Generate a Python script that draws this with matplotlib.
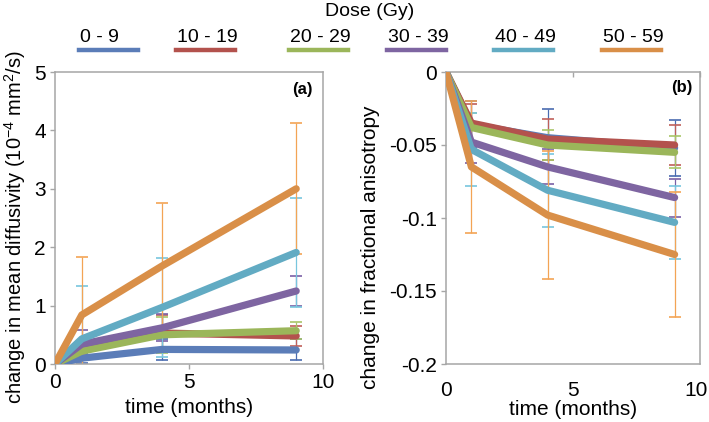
import numpy as np
import matplotlib
matplotlib.use("Agg")
import matplotlib.pyplot as plt
import matplotlib.transforms as mtransforms
from matplotlib.lines import Line2D
from matplotlib.ticker import FuncFormatter

plt.rcParams['font.family'] = ['Liberation Sans', 'DejaVu Sans']
plt.rcParams['mathtext.fontset'] = 'custom'
plt.rcParams['mathtext.rm'] = 'Liberation Sans'
plt.rcParams['mathtext.it'] = 'Liberation Sans:italic'
plt.rcParams['axes.unicode_minus'] = False

# dose groups and time points
doses = ['0 - 9', '10 - 19', '20 - 29', '30 - 39', '40 - 49', '50 - 59']
colors = ['#5b7db8', '#b3524d', '#9bb65a', '#7e65a1', '#62abc3', '#d98f48']
err_colors = ['#4a6cb0', '#c0605a', '#a9c668', '#7a60a6', '#78c6de', '#f3a455']
time = [0, 1, 4, 9]

# (a) change in mean diffusivity, 1e-4 mm2/s
md_0_9 = [0, 0.10, 0.25, 0.24]
md_10_19 = [0, 0.28, 0.53, 0.48]
md_20_29 = [0, 0.22, 0.50, 0.57]
md_30_39 = [0, 0.34, 0.62, 1.25]
md_40_49 = [0, 0.43, 0.97, 1.91]
md_50_59 = [0, 0.84, 1.68, 3.00]
md_sd_0_9 = [0, 0.08, 0.18, 0.18]
md_sd_10_19 = [0, 0.12, 0.31, 0.17]
md_sd_20_29 = [0, 0.10, 0.31, 0.15]
md_sd_30_39 = [0, 0.25, 0.23, 0.26]
md_sd_40_49 = [0, 0.90, 0.85, 0.94]
md_sd_50_59 = [0, 1.00, 1.08, 1.12]

# (b) change in fractional anisotropy
fa_0_9 = [0, -0.036, -0.045, -0.052]
fa_10_19 = [0, -0.035, -0.046, -0.050]
fa_20_29 = [0, -0.038, -0.050, -0.055]
fa_30_39 = [0, -0.048, -0.065, -0.086]
fa_40_49 = [0, -0.053, -0.081, -0.103]
fa_50_59 = [0, -0.065, -0.098, -0.125]
fa_sd_0_9 = [0, 0.016, 0.020, 0.019]
fa_sd_10_19 = [0, 0.013, 0.014, 0.014]
fa_sd_20_29 = [0, 0.010, 0.010, 0.011]
fa_sd_30_39 = [0, 0.014, 0.012, 0.013]
fa_sd_40_49 = [0, 0.025, 0.025, 0.025]
fa_sd_50_59 = [0, 0.045, 0.044, 0.043]

md = [md_0_9, md_10_19, md_20_29, md_30_39, md_40_49, md_50_59]
md_sd = [md_sd_0_9, md_sd_10_19, md_sd_20_29, md_sd_30_39, md_sd_40_49, md_sd_50_59]
fa = [fa_0_9, fa_10_19, fa_20_29, fa_30_39, fa_40_49, fa_50_59]
fa_sd = [fa_sd_0_9, fa_sd_10_19, fa_sd_20_29, fa_sd_30_39, fa_sd_40_49, fa_sd_50_59]

W, H = 709, 422
fig = plt.figure(figsize=(W / 100, H / 100), dpi=100)
ax_a = fig.add_axes([55 / W, 58 / H, 268 / W, 292 / H])
ax_b = fig.add_axes([446 / W, 58 / H, 254 / W, 292 / H])

spine_col = '#a6a6a6'
fs = 15


def draw(ax, means, sds):
    for i in range(len(doses)):
        ax.errorbar(time[1:], means[i][1:], yerr=sds[i][1:], fmt='none',
                    ecolor=err_colors[i], elinewidth=0.9, capsize=4,
                    capthick=1.2, zorder=2, clip_on=True)
    for i in range(len(doses)):
        ax.plot(time, means[i], color=colors[i], lw=5.2,
                solid_capstyle='round', solid_joinstyle='round', zorder=3 + i)
    for s in ax.spines.values():
        s.set_color(spine_col)
        s.set_linewidth(1.1)
    ax.set_xlim(0, 10)
    ax.set_xticks([0, 5, 10])
    ax.tick_params(colors=spine_col, labelcolor='black', labelsize=fs,
                   length=3.5, width=1, pad=3)


draw(ax_a, md, md_sd)
ax_a.set_ylim(0, 5)
ax_a.set_yticks([0, 1, 2, 3, 4, 5])
ax_a.set_xlabel('time (months)', fontsize=fs, labelpad=4)
ax_a.set_ylabel(r'change in mean diffusivity (10$^{-4}$ mm$^{2}$/s)', fontsize=14.5)
ax_a.yaxis.set_label_coords(-0.10, 0.47)
ax_a.text(0.963, 0.966, '(a)', transform=ax_a.transAxes, ha='right', va='top',
          fontsize=12, fontweight='bold')

draw(ax_b, fa, fa_sd)
ax_b.set_ylim(-0.2, 0)
ax_b.set_yticks([0, -0.05, -0.1, -0.15, -0.2])
ax_b.yaxis.set_major_formatter(FuncFormatter(lambda v, p: '%g' % v))
ax_b.tick_params(axis='x', bottom=False, top=True, direction='in', pad=12)
ax_b.set_xlabel('time (months)', fontsize=fs, labelpad=0)
ax_b.set_ylabel('change in fractional anisotropy', fontsize=fs)
ax_b.yaxis.set_label_coords(-0.26, 0.40)
ax_b.text(0.969, 0.973, '(b)', transform=ax_b.transAxes, ha='right', va='top',
          fontsize=12, fontweight='bold')

# keep the last x label of (b) inside the figure edge
last = ax_b.get_xticklabels()[-1]
last.set_ha('right')
last.set_transform(last.get_transform() +
                   mtransforms.ScaledTranslation(8 / 100, 0, fig.dpi_scale_trans))

# legend across the top
fig.text(370 / W, 1 - 12 / H, 'Dose (Gy)', ha='center', va='center', fontsize=14)
lefts = [79, 176, 289, 387, 494, 602]
for i, lab in enumerate(doses):
    x0 = lefts[i] / W
    fig.text(x0 + 1 / W, 1 - 37 / H, lab, ha='left', va='center', fontsize=14)
    fig.add_artist(Line2D([x0, x0 + 59 / W], [1 - 50 / H, 1 - 50 / H],
                          color=colors[i], lw=3.2, transform=fig.transFigure))

fig.savefig('out.png', dpi=100)
